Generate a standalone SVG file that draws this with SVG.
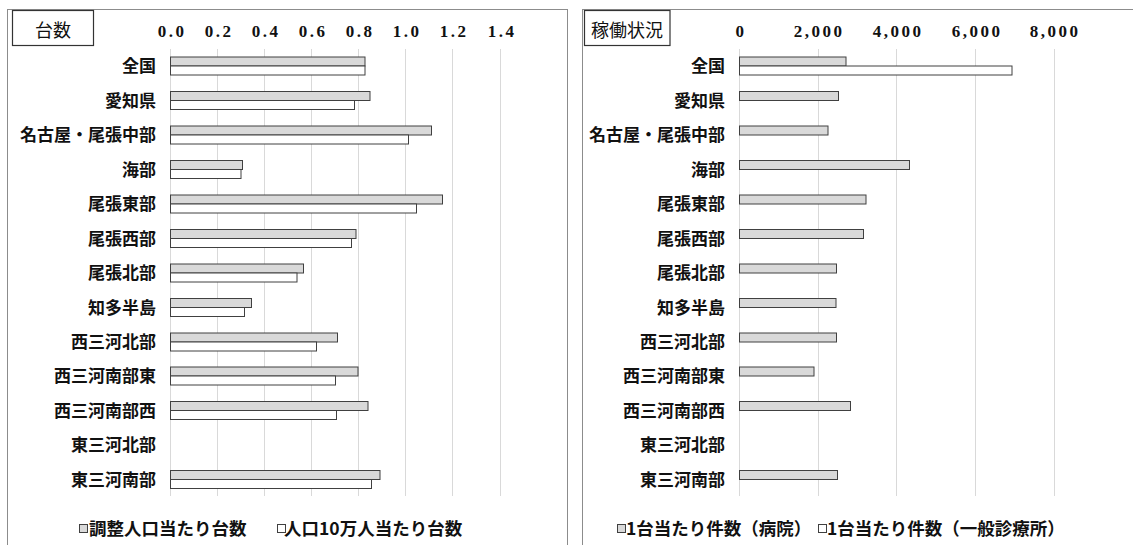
<svg xmlns="http://www.w3.org/2000/svg" width="1133" height="545" viewBox="0 0 1133 545">
<style>
.panel{fill:#fff;stroke:#8c8c8c;stroke-width:1}
.tbox{fill:#fff;stroke:#333;stroke-width:1.2}
.title{font-family:"Noto Sans CJK JP",sans-serif;font-size:18px;fill:#111;text-anchor:middle}
.tick{font-family:"Liberation Serif",serif;font-weight:bold;font-size:17px;fill:#111;text-anchor:middle;letter-spacing:2.5px}
.cat{font-family:"Noto Sans CJK JP",sans-serif;font-weight:bold;font-size:17px;fill:#111;text-anchor:end}
.leg{font-family:"Noto Sans CJK JP",sans-serif;font-weight:bold;font-size:17.5px;fill:#111}
.grid line{stroke:#d9d9d9;stroke-width:1}
.g{fill:#d9d9d9;stroke:#404040;stroke-width:1}
.w{fill:#fff;stroke:#404040;stroke-width:1}
</style>
<rect width="1133" height="545" fill="#fff"/>
<g id="panel-left">
<rect class="panel" x="7.5" y="9.5" width="560" height="560"/>
<g class="grid">
<line x1="170.5" y1="49" x2="170.5" y2="496"/>
<line x1="217.5" y1="49" x2="217.5" y2="496"/>
<line x1="264.5" y1="49" x2="264.5" y2="496"/>
<line x1="311.5" y1="49" x2="311.5" y2="496"/>
<line x1="358.5" y1="49" x2="358.5" y2="496"/>
<line x1="405.5" y1="49" x2="405.5" y2="496"/>
<line x1="452.5" y1="49" x2="452.5" y2="496"/>
<line x1="500.5" y1="49" x2="500.5" y2="496"/>
</g>
<g id="title-left"><rect class="tbox" x="12.5" y="10.5" width="81" height="35"/><text class="title" x="53" y="37">台数</text></g>
<g id="axis-left">
<text class="tick" x="172" y="37">0.0</text>
<text class="tick" x="219" y="37">0.2</text>
<text class="tick" x="266" y="37">0.4</text>
<text class="tick" x="313" y="37">0.6</text>
<text class="tick" x="360" y="37">0.8</text>
<text class="tick" x="407" y="37">1.0</text>
<text class="tick" x="454" y="37">1.2</text>
<text class="tick" x="502" y="37">1.4</text>
</g>
<g id="cats-left">
<text class="cat" x="156" y="72">全国</text>
<text class="cat" x="156" y="106.5">愛知県</text>
<text class="cat" x="156" y="141">名古屋・尾張中部</text>
<text class="cat" x="156" y="175.5">海部</text>
<text class="cat" x="156" y="210">尾張東部</text>
<text class="cat" x="156" y="244.5">尾張西部</text>
<text class="cat" x="156" y="279">尾張北部</text>
<text class="cat" x="156" y="313.5">知多半島</text>
<text class="cat" x="156" y="348">西三河北部</text>
<text class="cat" x="156" y="382">西三河南部東</text>
<text class="cat" x="156" y="416.5">西三河南部西</text>
<text class="cat" x="156" y="451">東三河北部</text>
<text class="cat" x="156" y="485.5">東三河南部</text>
</g>
<g id="bars-left">
<rect class="g" x="170.5" y="57" width="194.5" height="9"/><rect class="w" x="170.5" y="66" width="194.5" height="9"/>
<rect class="g" x="170.5" y="91.5" width="199.5" height="9"/><rect class="w" x="170.5" y="100.5" width="184" height="9"/>
<rect class="g" x="170.5" y="126" width="261" height="9"/><rect class="w" x="170.5" y="135" width="238" height="9"/>
<rect class="g" x="170.5" y="160.5" width="72" height="9"/><rect class="w" x="170.5" y="169.5" width="70.5" height="9"/>
<rect class="g" x="170.5" y="195" width="272" height="9"/><rect class="w" x="170.5" y="204" width="246" height="9"/>
<rect class="g" x="170.5" y="229.5" width="185.5" height="9"/><rect class="w" x="170.5" y="238.5" width="181" height="9"/>
<rect class="g" x="170.5" y="264" width="133" height="9"/><rect class="w" x="170.5" y="273" width="126.5" height="9"/>
<rect class="g" x="170.5" y="298.5" width="81" height="9"/><rect class="w" x="170.5" y="307.5" width="74" height="9"/>
<rect class="g" x="170.5" y="333" width="167" height="9"/><rect class="w" x="170.5" y="342" width="146" height="9"/>
<rect class="g" x="170.5" y="367" width="187.5" height="9"/><rect class="w" x="170.5" y="376" width="165" height="9"/>
<rect class="g" x="170.5" y="401.5" width="197.5" height="9"/><rect class="w" x="170.5" y="410.5" width="166" height="9"/>
<rect class="g" x="170.5" y="470.5" width="209.5" height="9"/><rect class="w" x="170.5" y="479.5" width="201" height="9"/>
</g>
<g id="legend-left">
<rect class="g" x="79.5" y="524.5" width="8" height="8"/>
<text class="leg" x="89" y="535">調整人口当たり台数</text>
<rect class="w" x="277.5" y="524.5" width="8" height="8"/>
<text class="leg" x="284" y="535">人口10万人当たり台数</text>
</g>
</g>
<g id="panel-right">
<rect class="panel" x="582.5" y="9.5" width="600" height="560"/>
<g class="grid">
<line x1="739.5" y1="49" x2="739.5" y2="496"/>
<line x1="818.5" y1="49" x2="818.5" y2="496"/>
<line x1="896.5" y1="49" x2="896.5" y2="496"/>
<line x1="975.5" y1="49" x2="975.5" y2="496"/>
<line x1="1054.5" y1="49" x2="1054.5" y2="496"/>
</g>
<g id="title-right"><rect class="tbox" x="584.5" y="10.5" width="85.5" height="35"/><text class="title" x="627" y="37">稼働状況</text></g>
<g id="axis-right">
<text class="tick" x="741" y="37">0</text>
<text class="tick" x="819" y="37">2,000</text>
<text class="tick" x="898" y="37">4,000</text>
<text class="tick" x="977" y="37">6,000</text>
<text class="tick" x="1055" y="37">8,000</text>
</g>
<g id="cats-right">
<text class="cat" x="725" y="72">全国</text>
<text class="cat" x="725" y="106.5">愛知県</text>
<text class="cat" x="725" y="141">名古屋・尾張中部</text>
<text class="cat" x="725" y="175.5">海部</text>
<text class="cat" x="725" y="210">尾張東部</text>
<text class="cat" x="725" y="244.5">尾張西部</text>
<text class="cat" x="725" y="279">尾張北部</text>
<text class="cat" x="725" y="313.5">知多半島</text>
<text class="cat" x="725" y="348">西三河北部</text>
<text class="cat" x="725" y="382">西三河南部東</text>
<text class="cat" x="725" y="416.5">西三河南部西</text>
<text class="cat" x="725" y="451">東三河北部</text>
<text class="cat" x="725" y="485.5">東三河南部</text>
</g>
<g id="bars-right">
<rect class="g" x="739.5" y="57" width="106.5" height="9"/><rect class="w" x="739.5" y="66" width="272.5" height="9"/>
<rect class="g" x="739.5" y="91.5" width="99" height="9"/>
<rect class="g" x="739.5" y="126" width="88.5" height="9"/>
<rect class="g" x="739.5" y="160.5" width="170" height="9"/>
<rect class="g" x="739.5" y="195" width="126.5" height="9"/>
<rect class="g" x="739.5" y="229.5" width="124" height="9"/>
<rect class="g" x="739.5" y="264" width="97" height="9"/>
<rect class="g" x="739.5" y="298.5" width="96.5" height="9"/>
<rect class="g" x="739.5" y="333" width="97" height="9"/>
<rect class="g" x="739.5" y="367" width="74.5" height="9"/>
<rect class="g" x="739.5" y="401.5" width="111" height="9"/>
<rect class="g" x="739.5" y="470.5" width="98" height="9"/>
</g>
<g id="legend-right">
<rect class="g" x="617.5" y="524.5" width="8" height="8"/>
<text class="leg" x="626" y="535">1台当たり件数（病院）</text>
<rect class="w" x="818.5" y="524.5" width="8" height="8"/>
<text class="leg" x="827" y="535">1台当たり件数（一般診療所）</text>
</g>
</g>
</svg>
